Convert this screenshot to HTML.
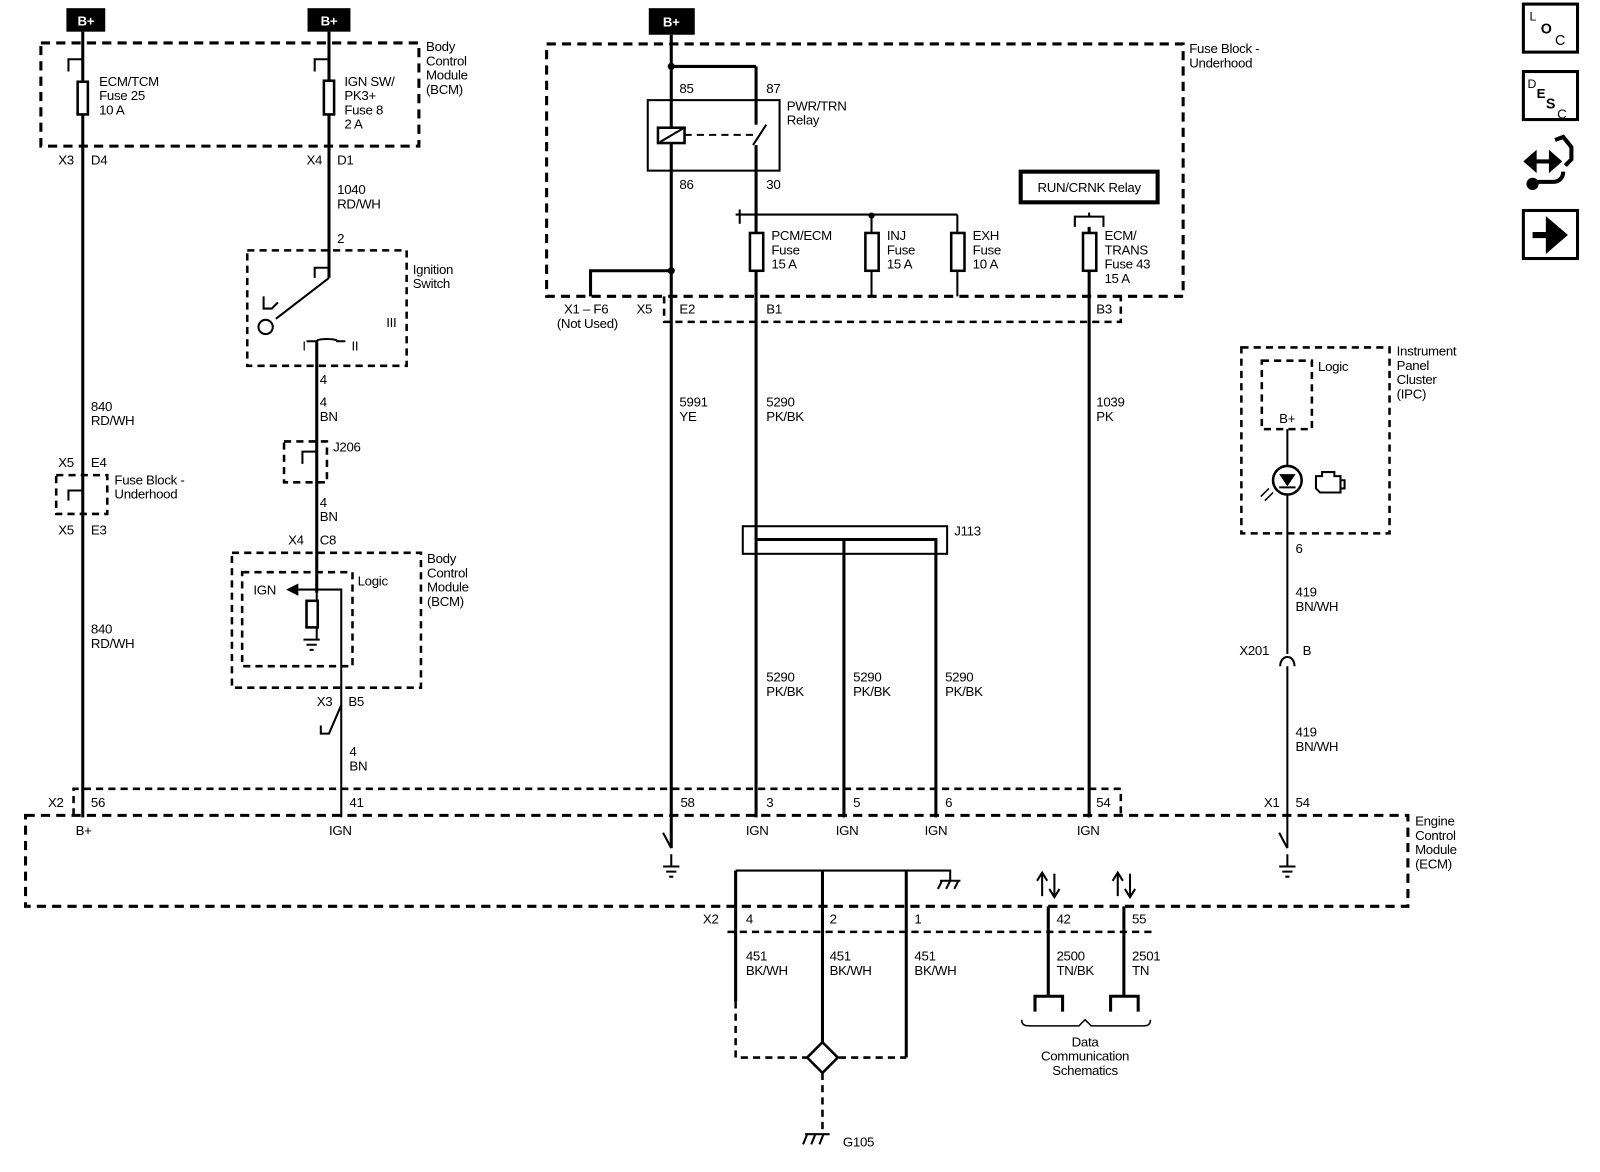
<!DOCTYPE html>
<html><head><meta charset="utf-8"><style>
html,body{margin:0;padding:0;background:#fff}
svg{display:block}
text{font-family:"Liberation Sans",sans-serif;font-size:13px;fill:#000;letter-spacing:-0.3px}
.w{stroke:#000;stroke-width:3;fill:none}
.t{stroke:#000;stroke-width:2;fill:none}
.d{stroke:#000;stroke-width:3;fill:none;stroke-dasharray:9,6}
.d2{stroke:#000;stroke-width:2.5;fill:none;stroke-dasharray:7,5}
.f{fill:#fff;stroke:#000;stroke-width:2.5}
</style></head><body>
<svg width="1600" height="1172" viewBox="0 0 1566 1147" preserveAspectRatio="none" xmlns="http://www.w3.org/2000/svg">
<!-- B+ boxes -->
<rect x="65" y="8" width="38" height="23" fill="#000"/><text x="84" y="25" text-anchor="middle" style="fill:#fff;font-weight:bold">B+</text>
<rect x="301" y="8" width="42" height="23" fill="#000"/><text x="322" y="25" text-anchor="middle" style="fill:#fff;font-weight:bold">B+</text>
<rect x="635" y="8" width="45" height="26" fill="#000"/><text x="657" y="26" text-anchor="middle" style="fill:#fff;font-weight:bold">B+</text>

<!-- BCM top box -->
<rect x="40" y="42" width="370" height="101" class="d"/>
<text x="417" y="50">Body</text><text x="417" y="64">Control</text><text x="417" y="78">Module</text><text x="417" y="92">(BCM)</text>
<line x1="81" y1="31" x2="81" y2="800" class="w"/>
<path d="M81 54 v14 M81 58 h-14 v12" class="t"/>
<rect x="76" y="80" width="10" height="32" class="f"/>
<text x="97" y="84">ECM/TCM</text><text x="97" y="98">Fuse 25</text><text x="97" y="112">10 A</text>
<text x="57" y="161">X3</text><text x="89" y="161">D4</text>
<text x="89" y="402">840</text><text x="89" y="416">RD/WH</text>
<text x="57" y="457">X5</text><text x="89" y="457">E4</text>
<rect x="55" y="465" width="50" height="38" class="d2"/>
<path d="M81 476 v14 M81 480 h-14 v10" class="t"/>
<text x="112" y="474">Fuse Block -</text><text x="112" y="488">Underhood</text>
<text x="57" y="523">X5</text><text x="89" y="523">E3</text>
<text x="89" y="620">840</text><text x="89" y="634">RD/WH</text>

<!-- IGN SW wire -->
<line x1="322" y1="31" x2="322" y2="272" class="w"/>
<path d="M322 54 v14 M322 58 h-14 v12" class="t"/>
<rect x="317" y="79" width="10" height="33" class="f"/>
<text x="337" y="84">IGN SW/</text><text x="337" y="98">PK3+</text><text x="337" y="112">Fuse 8</text><text x="337" y="126">2 A</text>
<text x="300" y="161">X4</text><text x="330" y="161">D1</text>
<text x="330" y="190">1040</text><text x="330" y="204">RD/WH</text>
<text x="330" y="238">2</text>
<rect x="242" y="245" width="156" height="113" class="d2"/>
<path d="M322 258 v12 M322 262 h-14 v10" class="t"/>
<path d="M322 272 L270 312" class="t"/>
<circle cx="260" cy="320" r="7" class="t"/>
<path d="M258 290 v12 h8 l6 -6" class="t"/>
<text x="404" y="268">Ignition</text><text x="404" y="282">Switch</text>
<text x="378" y="320">III</text><text x="296" y="343">I</text><text x="344" y="343">II</text>
<path d="M300 334 h10 c0 -3 20 -3 20 0 h8" class="t"/>
<line x1="310" y1="334" x2="310" y2="580" class="w"/>
<text x="313" y="376">4</text>
<text x="313" y="398">4</text><text x="313" y="412">BN</text>
<rect x="278" y="432" width="42" height="40" class="d2"/>
<path d="M310 438 v14 M310 442 h-14 v12" class="t"/>
<text x="326" y="442">J206</text>
<text x="313" y="496">4</text><text x="313" y="510">BN</text>
<text x="282" y="533">X4</text><text x="313" y="533">C8</text>
<rect x="227" y="541" width="185" height="132" class="d2"/>
<rect x="237" y="560" width="108" height="92" class="d2"/>
<text x="418" y="551">Body</text><text x="418" y="565">Control</text><text x="418" y="579">Module</text><text x="418" y="593">(BCM)</text>
<text x="350" y="573">Logic</text>
<text x="248" y="582">IGN</text>
<polygon points="280,577 292,571 292,583" fill="#000"/>
<path d="M292 577 H334 V800" class="t"/>
<line x1="310" y1="577" x2="310" y2="625" class="t"/>
<rect x="300" y="588" width="11" height="26" class="f"/>
<path d="M297 626 h16 M300 631 h10 M303 636 h4" class="t"/>
<text x="310" y="691">X3</text><text x="341" y="691">B5</text>
<path d="M334 690 L322 718 h-8 v-8" class="t"/>
<text x="342" y="740">4</text><text x="342" y="754">BN</text>

<!-- Fuse block underhood -->
<rect x="535" y="43" width="623" height="247" class="d"/>
<text x="1164" y="52">Fuse Block -</text><text x="1164" y="66">Underhood</text>
<path d="M650 290 V315 H1097 V290" class="d2"/>
<line x1="657" y1="34" x2="657" y2="830" class="w"/>
<path d="M657 65 H740" class="w"/>
<line x1="740" y1="65" x2="740" y2="122" class="w"/>
<line x1="740" y1="142" x2="740" y2="800" class="w"/>
<path d="M737 142 L750 122" class="t"/>
<rect x="634" y="98" width="129" height="69" class="t"/>
<rect x="644" y="125" width="26" height="15" class="f"/>
<line x1="646" y1="139" x2="668" y2="126" class="t"/>
<line x1="670" y1="132" x2="740" y2="132" class="t" stroke-dasharray="7,5"/>
<text x="665" y="91">85</text><text x="750" y="91">87</text>
<text x="665" y="185">86</text><text x="750" y="185">30</text>
<text x="770" y="108">PWR/TRN</text><text x="770" y="122">Relay</text>
<path d="M720 210 H937 M853 210 V290 M937 210 V290" class="t"/>
<path d="M724 205 v14" class="t"/>
<rect x="734" y="228" width="13" height="37" class="f"/>
<rect x="847" y="228" width="13" height="37" class="f"/>
<rect x="931" y="228" width="13" height="37" class="f"/>
<circle cx="853" cy="211" r="3"/>
<text x="755" y="235">PCM/ECM</text><text x="755" y="249">Fuse</text><text x="755" y="263">15 A</text>
<text x="868" y="235">INJ</text><text x="868" y="249">Fuse</text><text x="868" y="263">15 A</text>
<text x="952" y="235">EXH</text><text x="952" y="249">Fuse</text><text x="952" y="263">10 A</text>
<path d="M657 265 H578 V290" class="w"/>
<circle cx="657" cy="265" r="3.5"/>
<circle cx="657" cy="65" r="3.5"/>
<text x="552" y="307">X1 – F6</text><text x="545" y="321">(Not Used)</text>
<text x="623" y="307">X5</text><text x="665" y="307">E2</text><text x="750" y="307">B1</text><text x="1073" y="307">B3</text>
<rect x="999" y="168" width="134" height="30" fill="#fff" stroke="#000" stroke-width="4"/>
<text x="1066" y="188" text-anchor="middle">RUN/CRNK Relay</text>
<path d="M1052 222 v-10 h28 v10 M1066 212 v-4" class="t"/>
<line x1="1066" y1="222" x2="1066" y2="800" class="w"/>
<rect x="1060" y="228" width="13" height="37" class="f"/>
<text x="1081" y="235">ECM/</text><text x="1081" y="249">TRANS</text><text x="1081" y="263">Fuse 43</text><text x="1081" y="277">15 A</text>
<text x="665" y="398">5991</text><text x="665" y="412">YE</text>
<text x="750" y="398">5290</text><text x="750" y="412">PK/BK</text>
<text x="1073" y="398">1039</text><text x="1073" y="412">PK</text>

<!-- J113 -->
<rect x="727" y="515" width="200" height="27" class="t"/>
<path d="M740 528 H916 V800 M826 528 V800" class="w"/>
<text x="934" y="524">J113</text>
<text x="750" y="667">5290</text><text x="750" y="681">PK/BK</text>
<text x="835" y="667">5290</text><text x="835" y="681">PK/BK</text>
<text x="925" y="667">5290</text><text x="925" y="681">PK/BK</text>

<!-- IPC -->
<rect x="1215" y="340" width="145" height="182" class="d2"/>
<rect x="1235" y="353" width="49" height="67" class="d2"/>
<text x="1290" y="363">Logic</text>
<text x="1252" y="414">B+</text>
<text x="1367" y="348">Instrument</text><text x="1367" y="362">Panel</text><text x="1367" y="376">Cluster</text><text x="1367" y="390">(IPC)</text>
<line x1="1260" y1="420" x2="1260" y2="640" class="t"/>
<line x1="1260" y1="652" x2="1260" y2="830" class="t"/>
<circle cx="1260" cy="470" r="14" class="f"/>
<polygon points="1252,464 1268,464 1260,476" fill="#000"/><line x1="1252" y1="477" x2="1268" y2="477" class="t"/>
<path d="M1246 482 l-8 8 M1242 478 l-8 8" stroke="#000" stroke-width="1.5"/>
<path d="M1288 466 h6 v-4 h12 v4 h6 v16 h-20 l-4 -4 z M1312 470 h4 v8 h-4" class="t"/>
<text x="1268" y="541">6</text>
<text x="1268" y="584">419</text><text x="1268" y="598">BN/WH</text>
<text x="1213" y="641">X201</text><text x="1275" y="641">B</text>
<path d="M1253 652 c0 -12 14 -12 14 0" class="t"/>
<text x="1268" y="721">419</text><text x="1268" y="735">BN/WH</text>

<!-- ECM -->
<path d="M72 798 V772 H1097 V798" class="d2"/>
<rect x="25" y="798" width="1353" height="89" class="d"/>
<text x="1385" y="808">Engine</text><text x="1385" y="822">Control</text><text x="1385" y="836">Module</text><text x="1385" y="850">(ECM)</text>
<text x="47" y="790">X2</text><text x="89" y="790">56</text><text x="342" y="790">41</text><text x="666" y="790">58</text><text x="750" y="790">3</text><text x="835" y="790">5</text><text x="925" y="790">6</text><text x="1073" y="790">54</text><text x="1237" y="790">X1</text><text x="1268" y="790">54</text>
<text x="74" y="817">B+</text><text x="322" y="817">IGN</text><text x="730" y="817">IGN</text><text x="818" y="817">IGN</text><text x="905" y="817">IGN</text><text x="1054" y="817">IGN</text>
<path d="M657 830 L649 815" class="t"/>
<path d="M657 836 V848 M649 848 h16 M652 853 h10 M655 858 h4" class="t"/>
<path d="M1260 836 V848 M1252 848 h16 M1255 853 h10 M1258 858 h4" class="t"/>
<path d="M1260 830 L1252 815" class="t"/>
<path d="M720 852 H930 V862 M920 862 h20 M922 862 l-4 8 M930 862 l-4 8 M938 862 l-4 8" class="t"/>
<path d="M720 852 V980 M805 852 V1035 M887 852 V1035" class="w"/>
<path d="M1020 855 v22 M1015 862 l5 -8 l5 8 M1032 855 v22 M1027 870 l5 8 l5 -8" class="t"/>
<path d="M1094 855 v22 M1089 862 l5 -8 l5 8 M1106 855 v22 M1101 870 l5 8 l5 -8" class="t"/>
<path d="M712 912 H1130" class="d2"/>
<text x="688" y="904">X2</text><text x="730" y="904">4</text><text x="812" y="904">2</text><text x="895" y="904">1</text><text x="1034" y="904">42</text><text x="1108" y="904">55</text>
<path d="M1026 887 V975 M1100 887 V975" class="w"/>
<path d="M1013 990 v-15 h27 v15 M1087 990 v-15 h27 v15" class="w"/>
<text x="730" y="940">451</text><text x="730" y="954">BK/WH</text>
<text x="812" y="940">451</text><text x="812" y="954">BK/WH</text>
<text x="895" y="940">451</text><text x="895" y="954">BK/WH</text>
<text x="1034" y="940">2500</text><text x="1034" y="954">TN/BK</text>
<text x="1108" y="940">2501</text><text x="1108" y="954">TN</text>
<path d="M720 980 V1035 H887" class="d2"/>
<polygon points="805,1020 820,1035 805,1050 790,1035" class="f"/>
<path d="M805 1050 V1108" class="d2"/>
<path d="M788 1110 h24 M790 1110 l-4 10 M798 1110 l-4 10 M806 1110 l-4 10" class="t"/>
<text x="825" y="1122">G105</text>
<path d="M1000 998 c0 6 4 6 8 6 h48 l6 -6 l6 6 h50 c4 0 8 0 8 -6" stroke="#000" stroke-width="1.5" fill="none"/>
<text x="1062" y="1024" text-anchor="middle">Data</text><text x="1062" y="1038" text-anchor="middle">Communication</text><text x="1062" y="1052" text-anchor="middle">Schematics</text>

<!-- Right icons -->
<rect x="1491" y="4" width="53" height="47" fill="none" stroke="#000" stroke-width="3"/>
<text x="1497" y="20" style="font-size:12px">L</text><text x="1508" y="33" style="font-size:14px;font-weight:bold">O</text><text x="1522" y="44" style="font-size:14px">C</text>
<rect x="1491" y="70" width="53" height="47" fill="none" stroke="#000" stroke-width="3"/>
<text x="1495" y="86" style="font-size:12px">D</text><text x="1504" y="96" style="font-size:13px;font-weight:bold">E</text><text x="1513" y="106" style="font-size:14px;font-weight:bold">S</text><text x="1524" y="116" style="font-size:13px">C</text>
<path d="M1494 158 h32 M1494 158 l8 -7 v14 z M1526 158 l-8 -7 v14 z" stroke="#000" stroke-width="4" fill="#000"/>
<path d="M1522 137 l8 -3 l8 10 v12 l-6 6 M1500 178 h20 c6 0 10 -4 10 -10" stroke="#000" stroke-width="4" fill="none"/>
<circle cx="1500" cy="180" r="6" fill="#000"/>
<rect x="1491" y="206" width="53" height="47" fill="none" stroke="#000" stroke-width="3"/>
<path d="M1500 230 h18 M1516 218 l14 12 l-14 12 z" stroke="#000" stroke-width="6" fill="#000"/>
</svg>
</body></html>
